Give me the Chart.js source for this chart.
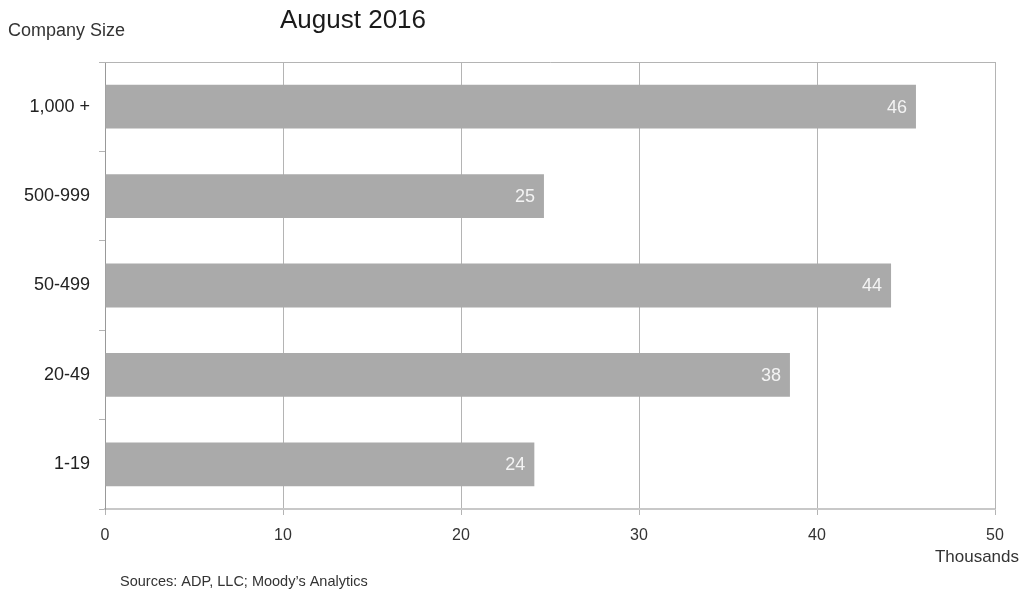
<!DOCTYPE html>
<html>
<head>
<meta charset="utf-8">
<script src="https://cdn.jsdelivr.net/npm/chart.js@4.4.0/dist/chart.umd.min.js"></script>
<style>
    html, body { margin: 0; padding: 0; background: #ffffff; }
    #wrap { width: 1022px; height: 595px; position: relative; }
</style>
</head>
<body>
<div id="wrap"><canvas id="sizeChart" width="1022" height="595"></canvas></div>
<script>
(function () {
    var categories = ['1,000 +', '500-999', '50-499', '20-49', '1-19'];
    var jobs = [45.56, 24.66, 44.16, 38.48, 24.12];
    var xTicks = [0, 10, 20, 30, 40, 50];

    var FONT = '"Liberation Sans", Arial, sans-serif';

    var textPlugin = {
        id: 'extraText',
        afterDraw: function (chart) {
            var ctx = chart.ctx;
            var area = chart.chartArea;
            var meta = chart.getDatasetMeta(0);

            ctx.save();
            // plot frame, top and right
            ctx.strokeStyle = '#b4b4b4';
            ctx.lineWidth = 1;
            ctx.beginPath();
            ctx.moveTo(area.left, area.top + 0.5);
            ctx.lineTo(area.right + 0.5, area.top + 0.5);
            ctx.lineTo(area.right + 0.5, area.bottom);
            ctx.stroke();

            // value labels inside bar ends
            ctx.fillStyle = '#f4f4f4';
            ctx.font = '18px ' + FONT;
            ctx.textAlign = 'right';
            ctx.textBaseline = 'middle';
            meta.data.forEach(function (bar, i) {
                ctx.fillText(String(Math.round(jobs[i])), bar.x - 9, bar.y + 1);
            });

            ctx.fillStyle = '#1a1a1a';
            ctx.textAlign = 'left';
            ctx.font = '26px ' + FONT;
            ctx.fillText('August 2016', 280, 21);

            ctx.fillStyle = '#333333';
            ctx.font = '18px ' + FONT;
            ctx.fillText('Company Size', 8, 31);

            ctx.textAlign = 'right';
            ctx.font = '17px ' + FONT;
            ctx.fillText('Thousands', 1019, 557);

            ctx.textAlign = 'left';
            ctx.font = '14.5px ' + FONT;
            ctx.fillText('Sources: ADP, LLC; Moody\u2019s Analytics', 120, 582);
            ctx.restore();
        }
    };

    new Chart(document.getElementById('sizeChart'), {
        type: 'bar',
        data: {
            labels: categories,
            datasets: [
                {
                    data: jobs,
                    backgroundColor: '#aaaaaa',
                    borderWidth: 0,
                    categoryPercentage: 1,
                    barPercentage: 0.49
                }
            ]
        },
        options: {
            indexAxis: 'y',
            responsive: false,
            animation: false,
            layout: {
                padding: { top: 62, right: 27, bottom: 0, left: 0 }
            },
            plugins: {
                legend: { display: false },
                tooltip: { enabled: false }
            },
            scales: {
                x: {
                    type: 'linear',
                    min: 0,
                    max: 50,
                    afterBuildTicks: function (axis) {
                        axis.ticks = xTicks.map(function (v) { return { value: v }; });
                    },
                    afterFit: function (axis) {
                        axis.height = 86;
                    },
                    grid: {
                        color: '#b4b4b4',
                        lineWidth: 1,
                        tickLength: 6,
                        drawTicks: true
                    },
                    border: { display: true, color: '#c8c8c8', width: 2 },
                    ticks: {
                        color: '#333333',
                        padding: 11,
                        maxRotation: 0,
                        font: { family: FONT, size: 16 }
                    }
                },
                y: {
                    afterFit: function (axis) {
                        axis.width = 105;
                    },
                    grid: {
                        offset: true,
                        drawOnChartArea: false,
                        color: '#b4b4b4',
                        tickLength: 6
                    },
                    border: { display: true, color: '#999999', width: 1 },
                    ticks: {
                        color: '#222222',
                        padding: 9,
                        font: { family: FONT, size: 18 }
                    }
                }
            }
        },
        plugins: [textPlugin]
    });
})();
</script>
</body>
</html>
